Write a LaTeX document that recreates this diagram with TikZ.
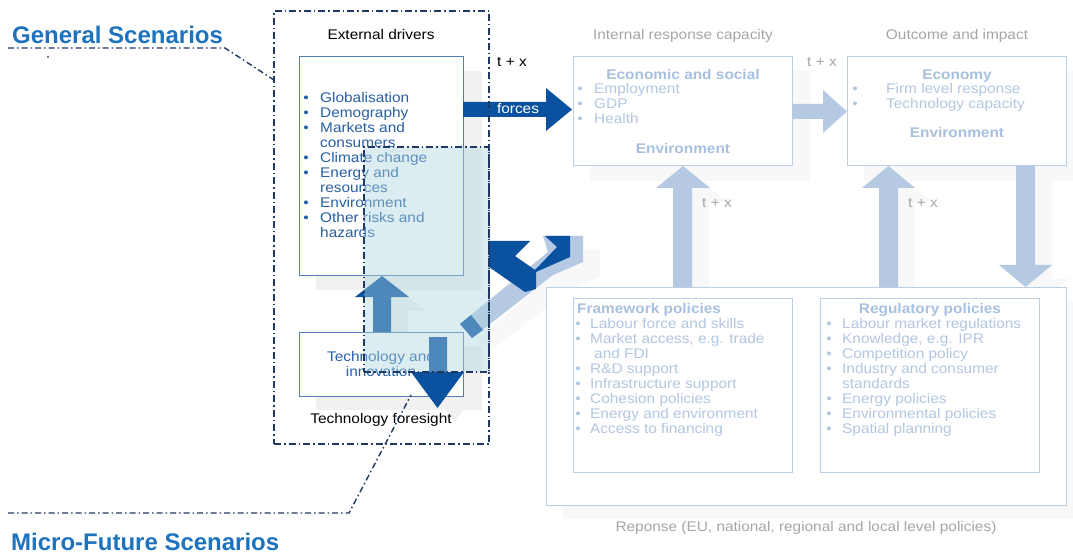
\documentclass[tikz,border=0pt]{standalone}
\usepackage{fontspec}
\setmainfont{Liberation Sans}[FakeStretch=1.1]
\newfontfamily\titlefont{Liberation Sans}
\definecolor{navy}{RGB}{31,56,100}
\definecolor{darkb}{RGB}{10,82,160}
\definecolor{titleblue}{RGB}{30,115,190}
\definecolor{ltxt}{RGB}{40,95,165}
\definecolor{lbord}{RGB}{80,125,185}
\definecolor{fbord}{RGB}{188,207,230}
\definecolor{ftxt}{RGB}{178,199,225}
\definecolor{fheadc}{RGB}{168,192,223}
\definecolor{glab}{RGB}{166,166,166}
\definecolor{lightarr}{RGB}{181,201,226}
\definecolor{shadowc}{RGB}{241,241,241}
\definecolor{shadowr}{RGB}{248,248,248}
\definecolor{overlayc}{RGB}{173,213,225}
\tikzset{
  leftbox/.style={draw=lbord, line width=1pt, fill=white, inner sep=0pt},
  rightbox/.style={draw=fbord, line width=1pt, fill=white, inner sep=0pt},
  bodytxt/.style={font=\fontsize{14}{15}\selectfont, inner sep=0pt},
  ltext/.style={bodytxt, text=ltxt},
  ftext/.style={bodytxt, text=ftxt},
  fhead/.style={inner sep=0pt, text=fheadc, font=\fontsize{14}{15}\selectfont\bfseries},
  glabel/.style={bodytxt, text=glab},
  blabel/.style={bodytxt, text=black},
  titletxt/.style={inner sep=0pt, text=titleblue, font=\titlefont\fontsize{24}{28}\selectfont\bfseries},
  bigdash/.style={draw=navy, line width=1.8pt, dash pattern=on 7pt off 3pt on 1.5pt off 3pt},
  leader/.style={draw=navy, line width=1.4pt, dash pattern=on 6pt off 3pt on 1.5pt off 3pt},
  overlaybox/.style={fill=overlayc, fill opacity=0.42, draw=navy, draw opacity=1, line width=1.4pt, dash pattern=on 7pt off 3pt on 1.5pt off 3pt, inner sep=0pt},
  shadowfill/.style={fill=shadowc},
  shadowright/.style={fill=shadowr},
}
\begin{document}
\begin{tikzpicture}[x=1pt,y=-1pt]
\useasboundingbox (0,0) rectangle (1073,553);
\fill[white] (0,0) rectangle (1073,553);

% ---------- shadows ----------
\fill[shadowfill] (316,71) rectangle (482,290);
\fill[shadowfill] (316,346) rectangle (482,410);
\fill[shadowright] (590,71) rectangle (810,181);
\fill[shadowright] (864,71) rectangle (1073,181);
\fill[shadowright] (563,301) rectangle (1073,519);
\begin{scope}[shift={(17,14)}]
  \fill[shadowright] (673,287) -- (673,188) -- (656,188) -- (683,166) -- (710,188) -- (692,188) -- (692,287) -- cycle;
  \fill[shadowright] (879,287) -- (879,188) -- (862,188) -- (888.5,166) -- (915,188) -- (898,188) -- (898,287) -- cycle;
  \fill[shadowright] (1016,166) -- (1035,166) -- (1035,265) -- (1052,265) -- (1025.5,287) -- (999,265) -- (1016,265) -- cycle;
  \fill[shadowfill] (373,332) -- (373,297) -- (355,297) -- (382,276) -- (409,297) -- (391,297) -- (391,332) -- cycle;
  \fill[shadowfill] (429,337) -- (447,337) -- (447,372) -- (464,372) -- (437.5,408) -- (411,372) -- (429,372) -- cycle;
  \fill[shadowright] (460,324) -- (548,252) -- (543,236) -- (583,236) -- (583,262) -- (553,275) -- (472,338) -- cycle;
\end{scope}

% ---------- right part (faded) ----------
\node[rightbox, minimum width=520pt, minimum height=218pt] (resp) at (806,396) {};
\node[rightbox, minimum width=219pt, minimum height=174pt] (frame) at (682.5,385) {};
\node[rightbox, minimum width=219pt, minimum height=174pt] (regul) at (929.5,385) {};
\node[rightbox, minimum width=219pt, minimum height=109pt] (econ) at (682.5,111.5) {};
\node[rightbox, minimum width=219pt, minimum height=109pt] (economy) at (956.5,111.5) {};

\node[glabel, anchor=base] (irc) at (683,40) {Internal response capacity};
\node[glabel, anchor=base] (oai) at (957,40) {Outcome and impact};
\node[glabel, anchor=base] (txb) at (822,67) {t + x};
\node[glabel, anchor=base] (txc) at (717,208) {t + x};
\node[glabel, anchor=base] (txd) at (923,208) {t + x};
\node[glabel, anchor=base] (resplab) at (806,531) {Reponse (EU, national, regional and local level policies)};

% box 1
\node[fhead, anchor=base] (h1) at (683,80) {Economic and social};
\node[ftext, anchor=base] (b1a) at (580,94) {•};
\node[ftext, anchor=base west] (t1a) at (594,94) {Employment};
\node[ftext, anchor=base] (b1b) at (580,109) {•};
\node[ftext, anchor=base west] (t1b) at (594,109) {GDP};
\node[ftext, anchor=base] (b1c) at (580,124) {•};
\node[ftext, anchor=base west] (t1c) at (594,124) {Health};
\node[fhead, anchor=base] (e1) at (683,154) {Environment};
% box 2
\node[fhead, anchor=base] (h2) at (957,80) {Economy};
\node[ftext, anchor=base] (b2a) at (855,94) {•};
\node[ftext, anchor=base west] (t2a) at (886,94) {Firm level response};
\node[ftext, anchor=base] (b2b) at (855,109) {•};
\node[ftext, anchor=base west] (t2b) at (886,109) {Technology capacity};
\node[fhead, anchor=base] (e2) at (957,138) {Environment};
% framework
\node[fhead, anchor=base west] (hf) at (577,313) {Framework policies};
\node[ftext, anchor=base] (bfa) at (578,328) {•};
\node[ftext, anchor=base west] (tfa) at (590,328) {Labour force and skills};
\node[ftext, anchor=base] (bfb) at (578,343) {•};
\node[ftext, anchor=base west] (tfb) at (590,343) {Market access, e.g. trade};
\node[ftext, anchor=base west] (tfb2) at (594,358) {and FDI};
\node[ftext, anchor=base] (bfc) at (578,373) {•};
\node[ftext, anchor=base west] (tfc) at (590,373) {R\&D support};
\node[ftext, anchor=base] (bfd) at (578,388) {•};
\node[ftext, anchor=base west] (tfd) at (590,388) {Infrastructure support};
\node[ftext, anchor=base] (bfe) at (578,403) {•};
\node[ftext, anchor=base west] (tfe) at (590,403) {Cohesion policies};
\node[ftext, anchor=base] (bff) at (578,418) {•};
\node[ftext, anchor=base west] (tff) at (590,418) {Energy and environment};
\node[ftext, anchor=base] (bfg) at (578,433) {•};
\node[ftext, anchor=base west] (tfg) at (590,433) {Access to financing};
% regulatory
\node[fhead, anchor=base] (hr) at (930,313) {Regulatory policies};
\node[ftext, anchor=base] (bra) at (829,328) {•};
\node[ftext, anchor=base west] (tra) at (842,328) {Labour market regulations};
\node[ftext, anchor=base] (brb) at (829,343) {•};
\node[ftext, anchor=base west] (trb) at (842,343) {Knowledge, e.g. IPR};
\node[ftext, anchor=base] (brc) at (829,358) {•};
\node[ftext, anchor=base west] (trc) at (842,358) {Competition policy};
\node[ftext, anchor=base] (brd) at (829,373) {•};
\node[ftext, anchor=base west] (trd) at (842,373) {Industry and consumer};
\node[ftext, anchor=base west] (trd2) at (842,388) {standards};
\node[ftext, anchor=base] (bre) at (829,403) {•};
\node[ftext, anchor=base west] (tre) at (842,403) {Energy policies};
\node[ftext, anchor=base] (brf) at (829,418) {•};
\node[ftext, anchor=base west] (trf) at (842,418) {Environmental policies};
\node[ftext, anchor=base] (brg) at (829,433) {•};
\node[ftext, anchor=base west] (trg) at (842,433) {Spatial planning};

% right arrows (light blue)
\fill[lightarr] (792,104) -- (823,104) -- (823,90) -- (847,111.5) -- (823,133) -- (823,119) -- (792,119) -- cycle;
\fill[lightarr] (673,287) -- (673,188) -- (656,188) -- (683,166) -- (710,188) -- (692,188) -- (692,287) -- cycle;
\fill[lightarr] (879,287) -- (879,188) -- (862,188) -- (888.5,166) -- (915,188) -- (898,188) -- (898,287) -- cycle;
\fill[lightarr] (1016,166) -- (1035,166) -- (1035,265) -- (1052,265) -- (1025.5,287) -- (999,265) -- (1016,265) -- cycle;

% ---------- left part ----------
\node[leftbox, minimum width=164pt, minimum height=219pt] (ext) at (381,166.5) {};
\node[leftbox, minimum width=164pt, minimum height=64pt] (tech) at (381,364) {};

\node[blabel, anchor=base] (extlab) at (381,40) {External drivers};
\node[blabel, anchor=base] (txa) at (512,67) {t + x};
\node[ltext, anchor=base] (ba) at (306,103) {•};
\node[ltext, anchor=base west] (ta) at (320,103) {Globalisation};
\node[ltext, anchor=base] (bb) at (306,118) {•};
\node[ltext, anchor=base west] (tb) at (320,118) {Demography};
\node[ltext, anchor=base] (bc) at (306,133) {•};
\node[ltext, anchor=base west] (tc) at (320,133) {Markets and};
\node[ltext, anchor=base west] (tc2) at (320,148) {consumers};
\node[ltext, anchor=base] (bd) at (306,163) {•};
\node[ltext, anchor=base west] (td) at (320,163) {Climate change};
\node[ltext, anchor=base] (be) at (306,178) {•};
\node[ltext, anchor=base west] (te) at (320,178) {Energy and};
\node[ltext, anchor=base west] (te2) at (320,193) {resources};
\node[ltext, anchor=base] (bf) at (306,208) {•};
\node[ltext, anchor=base west] (tf) at (320,208) {Environment};
\node[ltext, anchor=base] (bg) at (306,223) {•};
\node[ltext, anchor=base west] (tg) at (320,223) {Other risks and};
\node[ltext, anchor=base west] (tg2) at (320,238) {hazards};
\node[ltext, anchor=base] (techa) at (381,361) {Technology and};
\node[ltext, anchor=base] (techb) at (381,376) {innovation};
\node[blabel, anchor=base] (tfs) at (381,423) {Technology foresight};

% dark arrows
\fill[darkb] (463,102) -- (546,102) -- (546,88) -- (572,109.5) -- (546,131) -- (546,117) -- (463,117) -- cycle;
\node[bodytxt, text=white, anchor=base] (forces) at (518,114) {forces};
\fill[darkb] (373,332) -- (373,297) -- (355,297) -- (382,276) -- (409,297) -- (391,297) -- (391,332) -- cycle;
\fill[darkb] (429,337) -- (447,337) -- (447,372) -- (464,372) -- (437.5,408) -- (411,372) -- (429,372) -- cycle;

% diagonal arrows
\fill[lightarr] (460,324) -- (548,252) -- (543,236) -- (583,236) -- (583,262) -- (553,275) -- (472,338) -- cycle;
\fill[darkb] (460,324) -- (471,315) -- (483,330) -- (472,338) -- cycle;
\fill[darkb] (489,241) -- (530,241) -- (515,256) -- (535,270) -- (557,247) -- (545,236) -- (570,236) -- (570,257) -- (536,272) -- (536,289) -- (525,292) -- (489,267) -- cycle;

% translucent micro-future overlay
\node[overlaybox, minimum width=125pt, minimum height=225pt] (micro) at (426.5,259.5) {};

% big general scenarios box
\node[bigdash, inner sep=0pt, minimum width=215pt, minimum height=433pt] (general) at (381.5,227.5) {};

% leaders and titles
\coordinate (g1) at (8,48);
\coordinate (g2) at (225,48);
\coordinate (g3) at (274,80);
\draw[leader] (g1) -- (g2) -- (g3);
\fill[navy] (48,57) circle (1pt);
\coordinate (m1) at (8,513);
\coordinate (m2) at (349,513);
\coordinate (m3) at (411,395);
\draw[leader] (m1) -- (m2) -- (m3);
\node[titletxt, anchor=base west] (gs) at (12,44) {General Scenarios};
\node[titletxt, anchor=base west] (mf) at (11,550) {Micro-Future Scenarios};
\end{tikzpicture}
\end{document}
